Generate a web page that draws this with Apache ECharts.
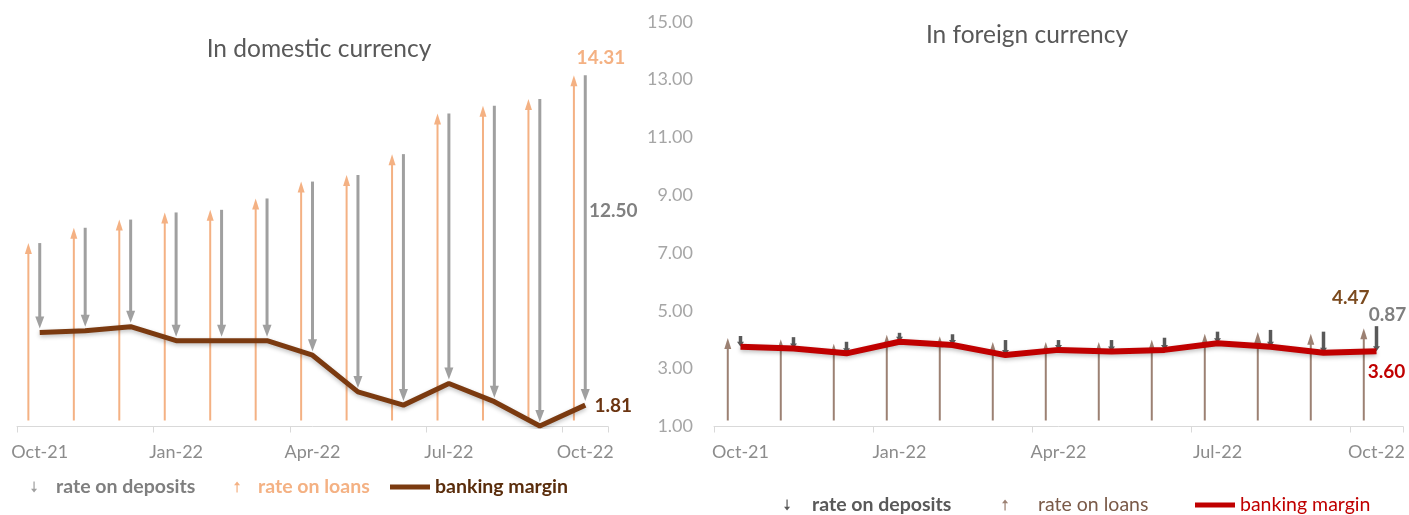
<!DOCTYPE html>
<html><head><meta charset="utf-8">
<script src="https://cdn.jsdelivr.net/npm/echarts@6/dist/echarts.min.js"></script>
<style>html,body{margin:0;padding:0;background:#fff}#c{width:1409px;height:515px}</style>
</head><body><div id="c"></div>
<script>
// ---- data ----
const months = ['Oct-21','Nov-21','Dec-21','Jan-22','Feb-22','Mar-22','Apr-22','May-22','Jun-22','Jul-22','Aug-22','Sep-22','Oct-22'];
// domestic currency
const domLoans    = [7.95, 8.53, 8.84, 9.11, 9.21, 9.64, 10.28, 10.53, 11.32, 12.86, 13.15, 13.41, 14.31];
const domDeposits = [3.39, 3.90, 4.06, 4.86, 4.96, 5.39, 6.58, 8.22, 9.51, 10.23, 11.21, 12.39, 12.50];
const domMargin   = [4.56, 4.63, 4.78, 4.25, 4.25, 4.25, 3.70, 2.31, 1.81, 2.63, 1.94, 1.02, 1.81];
// foreign currency
const forLoans    = [4.13, 4.09, 3.93, 4.24, 4.19, 3.99, 3.99, 3.99, 4.07, 4.28, 4.34, 4.28, 4.47];
const forDeposits = [0.37, 0.39, 0.40, 0.31, 0.37, 0.52, 0.34, 0.40, 0.42, 0.40, 0.58, 0.73, 0.87];
const forMargin   = [3.76, 3.70, 3.53, 3.93, 3.82, 3.47, 3.65, 3.59, 3.65, 3.88, 3.76, 3.55, 3.60];
// value axis (tick labels 1.00 ... 15.00)
const yMin = 1, yMax = 15, yStep = 2;

const FONT = 'Lato, "Open Sans", sans-serif';
const last = months.length - 1;

function arrowRender(o) {
  return function (params, api) {
    const i = api.value(0);
    const a = api.coord([i, api.value(1)]);
    const b = api.coord([i, api.value(2)]);
    const bw = api.size([1, 0])[0];
    const x = a[0] + o.offset * bw;
    const dir = b[1] > a[1] ? 1 : -1;
    const y0 = a[1] + dir * o.startGap;
    const tip = b[1] - dir * o.endGap;
    const hb = tip - dir * o.headL;
    const children = [
      { type: 'line', shape: { x1: x, y1: y0, x2: x, y2: hb + dir * 1 },
        style: { stroke: o.color, lineWidth: o.width } },
      { type: 'polygon', shape: { points: [[x - o.headW / 2, hb], [x + o.headW / 2, hb], [x, tip]] },
        style: { fill: o.color } }
    ];
    if (i === last && o.labels) {
      o.labels.forEach(l => {
        const base = l.at === 'a' ? a : (l.at === 'b' ? b : [a[0], a[1] + (b[1] - a[1]) * l.frac]);
        children.push({ type: 'text', z2: 10,
          style: { text: l.text, x: base[0] + o.offset * bw + l.dx, y: base[1] + l.dy,
            align: 'center', verticalAlign: 'middle', fill: l.color,
            font: 'bold 19px ' + FONT } });
      });
    }
    return { type: 'group', children };
  };
}

const xAxisCommon = (gi) => ({
  type: 'category', gridIndex: gi, data: months, boundaryGap: true,
  axisLine: { lineStyle: { color: '#d9d9d9', width: 1 } },
  axisTick: { show: true, interval: 2, length: 6, lineStyle: { color: '#d9d9d9' } },
  axisLabel: { interval: 2, color: '#8c8c8c', fontSize: 18, fontFamily: FONT, margin: 17 }
});

const legendText = (color, weight) => ({ color, fontSize: 19.5, fontWeight: weight, fontFamily: FONT });
const ARROW_DOWN = 'path://M4,0H6V12H10L5,18L0,12H4Z';
const ARROW_UP = 'path://M5,0L10,6H6V18H4V6H0Z';
const LINE_ICON = 'path://M0,0H40V5H0Z';

const option = {
  backgroundColor: '#fff',
  animation: false,
  title: [
    { text: 'In domestic currency', left: 319, top: 36.5, textAlign: 'center', padding: 0,
      textStyle: { color: '#595959', fontSize: 24.5, fontWeight: 'normal', fontFamily: FONT } },
    { text: 'In foreign currency', left: 1027, top: 22.5, textAlign: 'center', padding: 0,
      textStyle: { color: '#595959', fontSize: 24.5, fontWeight: 'normal', fontFamily: FONT } }
  ],
  grid: [
    { left: 17, width: 591, top: 57, bottom: 88.5 },
    { left: 714, right: 6, top: 21.7, bottom: 88.5 }
  ],
  xAxis: [xAxisCommon(0), xAxisCommon(1)],
  yAxis: [
    { type: 'value', gridIndex: 0, min: yMin, max: yMax, interval: yStep, show: false, splitLine: { show: false } },
    { type: 'value', gridIndex: 1, min: yMin, max: yMax, interval: yStep,
      axisLine: { show: false }, axisTick: { show: false }, splitLine: { show: false },
      axisLabel: { color: '#a6a6a6', fontSize: 18, fontFamily: FONT, margin: 21,
        formatter: v => v.toFixed(2) } }
  ],
  legend: [
    { left: 31, top: 477, padding: 0, itemWidth: 34, itemHeight: 11, selectedMode: false,
      data: [{ name: 'rate on deposits', icon: ARROW_DOWN, itemStyle: { color: '#a0a0a0', borderWidth: 0 } }],
      textStyle: legendText('#7f7f7f', 'bold') },
    { left: 234, top: 477, padding: 0, itemWidth: 32, itemHeight: 11, selectedMode: false,
      data: [{ name: 'rate on loans', icon: ARROW_UP, itemStyle: { color: '#f4b183', borderWidth: 0 } }],
      textStyle: legendText('#f4b183', 'bold') },
    { left: 390, top: 477, padding: 0, itemWidth: 40, itemHeight: 11, selectedMode: false,
      data: [{ name: 'banking margin', icon: LINE_ICON, itemStyle: { color: '#7b3a10', borderWidth: 0 } }],
      textStyle: legendText('#5a2d0c', 'bold') },
    { left: 784, top: 495, padding: 0, itemWidth: 40, itemHeight: 11, selectedMode: false,
      data: [{ name: 'rate on deposits', icon: ARROW_DOWN, itemStyle: { color: '#595959', borderWidth: 0 } }],
      textStyle: legendText('#595959', 'bold') },
    { left: 1002, top: 495, padding: 0, itemWidth: 56, itemHeight: 11, selectedMode: false,
      data: [{ name: 'rate on loans', icon: ARROW_UP, itemStyle: { color: '#9c8173', borderWidth: 0 } }],
      textStyle: legendText('#7a5a48', 'normal') },
    { left: 1195, top: 495, padding: 0, itemWidth: 40, itemHeight: 11, selectedMode: false,
      data: [{ name: 'banking margin', icon: LINE_ICON, itemStyle: { color: '#c00000', borderWidth: 0 } }],
      textStyle: legendText('#c00000', 'normal') }
  ],
  series: [
    // ---- domestic ----
    { name: 'rate on loans', type: 'custom', xAxisIndex: 0, yAxisIndex: 0, z: 2,
      itemStyle: { color: '#f4b183' }, encode: { x: 0, y: [1, 2] },
      data: months.map((m, i) => [i, yMin, domLoans[i]]),
      renderItem: arrowRender({ offset: -0.25, color: '#f4b183', width: 2, headW: 7, headL: 11, startGap: 6, endGap: 0,
        labels: [{ at: 'b', dx: 27, dy: -17, text: domLoans[last].toFixed(2), color: '#f4b183' }] }) },
    { name: 'rate on deposits', type: 'custom', xAxisIndex: 0, yAxisIndex: 0, z: 3,
      itemStyle: { color: '#a0a0a0' }, encode: { x: 0, y: [1, 2] },
      data: months.map((m, i) => [i, domLoans[i], domLoans[i] - domDeposits[i]]),
      renderItem: arrowRender({ offset: 0, color: '#a0a0a0', width: 3, headW: 9, headL: 12, startGap: 0, endGap: 4,
        labels: [{ at: 'f', frac: 0.41, dx: 28, dy: 0, text: domDeposits[last].toFixed(2), color: '#808080' },
                 { at: 'b', dx: 28, dy: 1, text: domMargin[last].toFixed(2), color: '#6b3512' }] }) },
    { name: 'banking margin', type: 'line', xAxisIndex: 0, yAxisIndex: 0, z: 5,
      data: domMargin, showSymbol: false, symbol: 'none', color: '#7b3a10',
      lineStyle: { color: '#7b3a10', width: 5, shadowBlur: 4, shadowColor: 'rgba(0,0,0,0.25)', shadowOffsetY: 2 } },
    // ---- foreign ----
    { name: 'rate on loans', type: 'custom', xAxisIndex: 1, yAxisIndex: 1, z: 2,
      itemStyle: { color: '#9c8173' }, encode: { x: 0, y: [1, 2] },
      data: months.map((m, i) => [i, yMin, forLoans[i]]),
      renderItem: arrowRender({ offset: -0.24, color: '#9c8173', width: 2, headW: 7, headL: 11, startGap: 6, endGap: 2,
        labels: [{ at: 'b', dx: -13, dy: -28, text: forLoans[last].toFixed(2), color: '#7b4a1e' }] }) },
    { name: 'rate on deposits', type: 'custom', xAxisIndex: 1, yAxisIndex: 1, z: 3,
      itemStyle: { color: '#595959' }, encode: { x: 0, y: [1, 2] },
      data: months.map((m, i) => [i, forLoans[i], forLoans[i] - forDeposits[i]]),
      renderItem: arrowRender({ offset: 0, color: '#595959', width: 3.5, headW: 7, headL: 5, startGap: 0, endGap: 0,
        labels: [{ at: 'a', dx: 11, dy: -11, text: forDeposits[last].toFixed(2), color: '#7f7f7f' },
                 { at: 'b', dx: 10, dy: 21, text: forMargin[last].toFixed(2), color: '#c00000' }] }) },
    { name: 'banking margin', type: 'line', xAxisIndex: 1, yAxisIndex: 1, z: 5,
      data: forMargin, showSymbol: false, symbol: 'none', color: '#c00000',
      lineStyle: { color: '#c00000', width: 6, shadowBlur: 4, shadowColor: 'rgba(0,0,0,0.25)', shadowOffsetY: 2 } }
  ]
};
const chart = echarts.init(document.getElementById('c'), null, { renderer: 'canvas' });
chart.setOption(option);
</script></body></html>
